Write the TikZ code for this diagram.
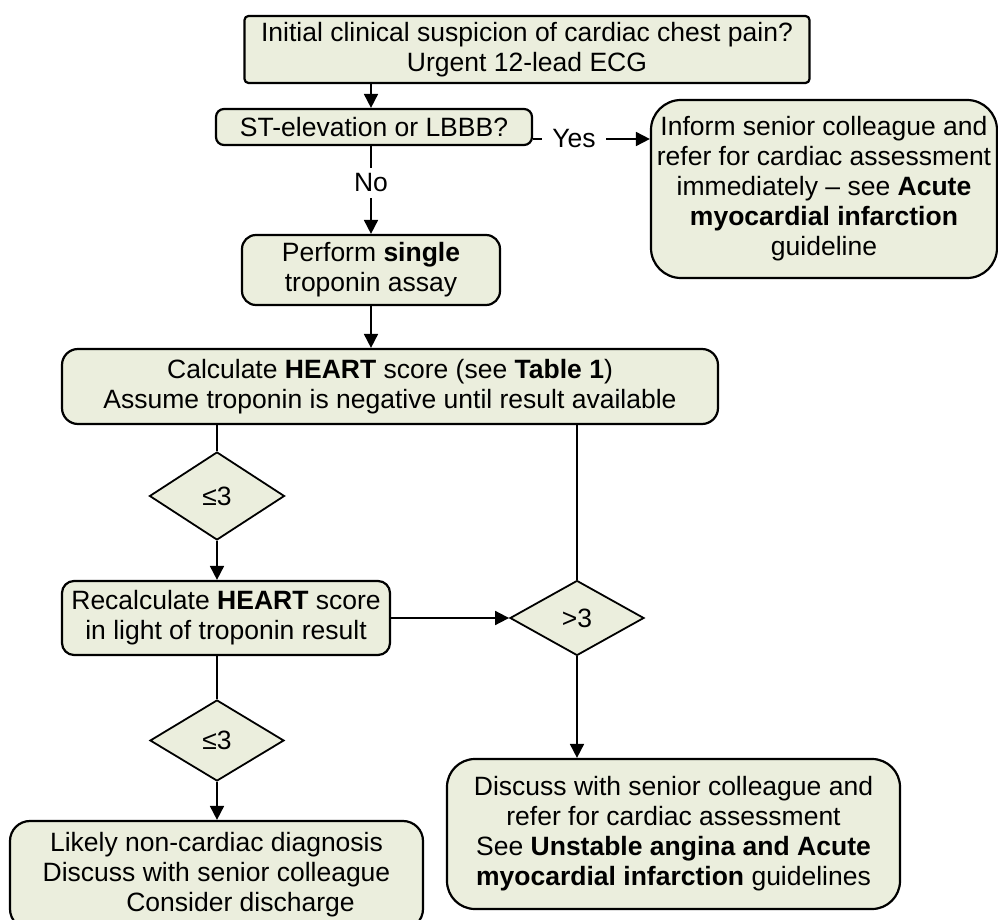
\documentclass[tikz,border=0pt]{standalone}
\usepackage{fontspec}
\setmainfont{Liberation Sans}
\usetikzlibrary{arrows.meta,shapes.geometric}
\definecolor{boxfill}{RGB}{235,238,221}
\begin{document}
\begin{tikzpicture}[x=0.5pt,y=-0.5pt,
  font=\fontsize{13.25}{15}\selectfont,
  box/.style={draw,line width=1.1pt,fill=boxfill,align=center,inner sep=0pt},
  dec/.style={draw,line width=0.9pt,fill=boxfill,diamond,inner sep=0pt},
  arr/.style={line width=0.9pt,-{Triangle[length=7pt,width=7pt]}},
  ln/.style={line width=0.9pt},
  lbl/.style={fill=white,inner xsep=5pt,inner ysep=3pt}]
\useasboundingbox (0,0) rectangle (998,920);

\node[box,rounded corners=2pt,minimum width=282.5pt,minimum height=33.5pt] (top) at (527,49.5)
  {Initial clinical suspicion of cardiac chest pain?\\Urgent 12-lead ECG};
\node[box,rounded corners=4pt,minimum width=158pt,minimum height=18pt] (st) at (374,127)
  {ST-elevation or LBBB?};
\node[box,rounded corners=15pt,minimum width=173pt,minimum height=89pt] (inf) at (824,189)
  {Inform senior colleague and\\refer for cardiac assessment\\immediately – see \textbf{Acute}\\\textbf{myocardial infarction}\\guideline};
\node[box,rounded corners=7pt,minimum width=129pt,minimum height=35pt] (perf) at (371,270)
  {Perform \textbf{single}\\troponin assay};
\node[box,rounded corners=8pt,minimum width=328pt,minimum height=37.5pt] (calc) at (390,386.5)
  {Calculate \textbf{HEART} score (see \textbf{Table 1})\\Assume troponin is negative until result available};
\node[dec,minimum width=67.5pt,minimum height=44pt] (d1) at (217,496) {≤3};
\node[box,rounded corners=6pt,minimum width=164pt,minimum height=37pt] (rec) at (226,618)
  {Recalculate \textbf{HEART} score\\in light of troponin result};
\node[dec,minimum width=67pt,minimum height=37.5pt] (d2) at (577,618) {>3};
\node[dec,minimum width=67pt,minimum height=40.5pt] (d3) at (217,740.5) {≤3};
\node[box,rounded corners=10pt,minimum width=206.5pt,minimum height=54pt] (bl) at (216.5,875)
  {Likely non-cardiac diagnosis\\Discuss with senior colleague\\\hspace*{24pt}Consider discharge};
\node[box,rounded corners=14pt,minimum width=226.5pt,minimum height=75pt] (br) at (673.5,834)
  {Discuss with senior colleague and\\refer for cardiac assessment\\See \textbf{Unstable angina and Acute}\\\textbf{myocardial infarction} guidelines};

\coordinate (yesy) at (0,139);
\draw[arr] (perf |- top.south) -- (perf |- st.north);
\draw[arr] (st.east |- yesy) -- node[lbl,pos=0.35] {Yes} (inf.west |- yesy);
\draw[arr] (perf |- st.south) -- node[lbl,pos=0.42] {No} (perf.north);
\draw[arr] (perf.south) -- (perf.south |- calc.north);
\draw[ln] (d1 |- calc.south) -- (d1.north);
\draw[arr] (d1.south) -- (d1.south |- rec.north);
\draw[ln] (d2 |- calc.south) -- (d2.north);
\draw[arr] (rec.east) -- (d2.west);
\draw[ln] (d3 |- rec.south) -- (d3.north);
\draw[arr] (d3.south) -- (d3.south |- bl.north);
\draw[arr] (d2.south) -- (d2.south |- br.north);
\end{tikzpicture}
\end{document}
